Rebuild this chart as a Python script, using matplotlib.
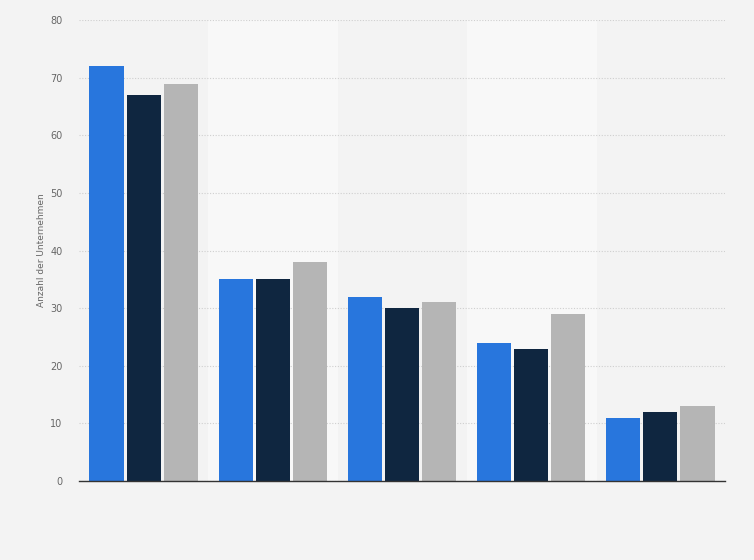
import numpy as np
import matplotlib.pyplot as plt

# Werte
gruppen = ['1', '2', '3', '4', '5']
serie_a = [72, 35, 32, 24, 11]
serie_b = [67, 35, 30, 23, 12]
serie_c = [69, 38, 31, 29, 13]
farben = ['#2876dd', '#0f2640', '#b5b5b5']

fig = plt.figure(figsize=(7.54, 5.6), dpi=100, facecolor='#f3f3f3')
ax = fig.add_axes([0.1048, 0.141, 0.8567, 0.823])
ax.set_facecolor('#f3f3f3')

x = np.arange(len(gruppen))
w = 0.264
for i in range(len(gruppen)):
    if i % 2 == 1:
        ax.axvspan(i - 0.5, i + 0.5, color='#f8f8f8', zorder=0)

for k, (vals, c) in enumerate(zip([serie_a, serie_b, serie_c], farben)):
    ax.bar(x + (k - 1) * (w + 0.023), vals, w, color=c, edgecolor='none', zorder=3)

ax.set_xlim(-0.5, len(gruppen) - 0.5)
ax.set_ylim(0, 80)
ax.set_yticks(range(0, 81, 10))
ax.set_xticks([])
ax.grid(axis='y', color='#cfcfcf', linestyle=(0, (1, 1.5)), linewidth=0.8, zorder=1)
for s in ['top', 'right', 'left']:
    ax.spines[s].set_visible(False)
ax.spines['bottom'].set_color('#333333')
ax.spines['bottom'].set_linewidth(1.0)
ax.spines['bottom'].set_zorder(4)
ax.tick_params(axis='y', length=0, labelsize=7, labelcolor='#666666', pad=12)
ax.set_ylabel('Anzahl der Unternehmen', fontsize=6.5, color='#666666', labelpad=3)

fig.savefig('out.png', dpi=100, facecolor=fig.get_facecolor())
